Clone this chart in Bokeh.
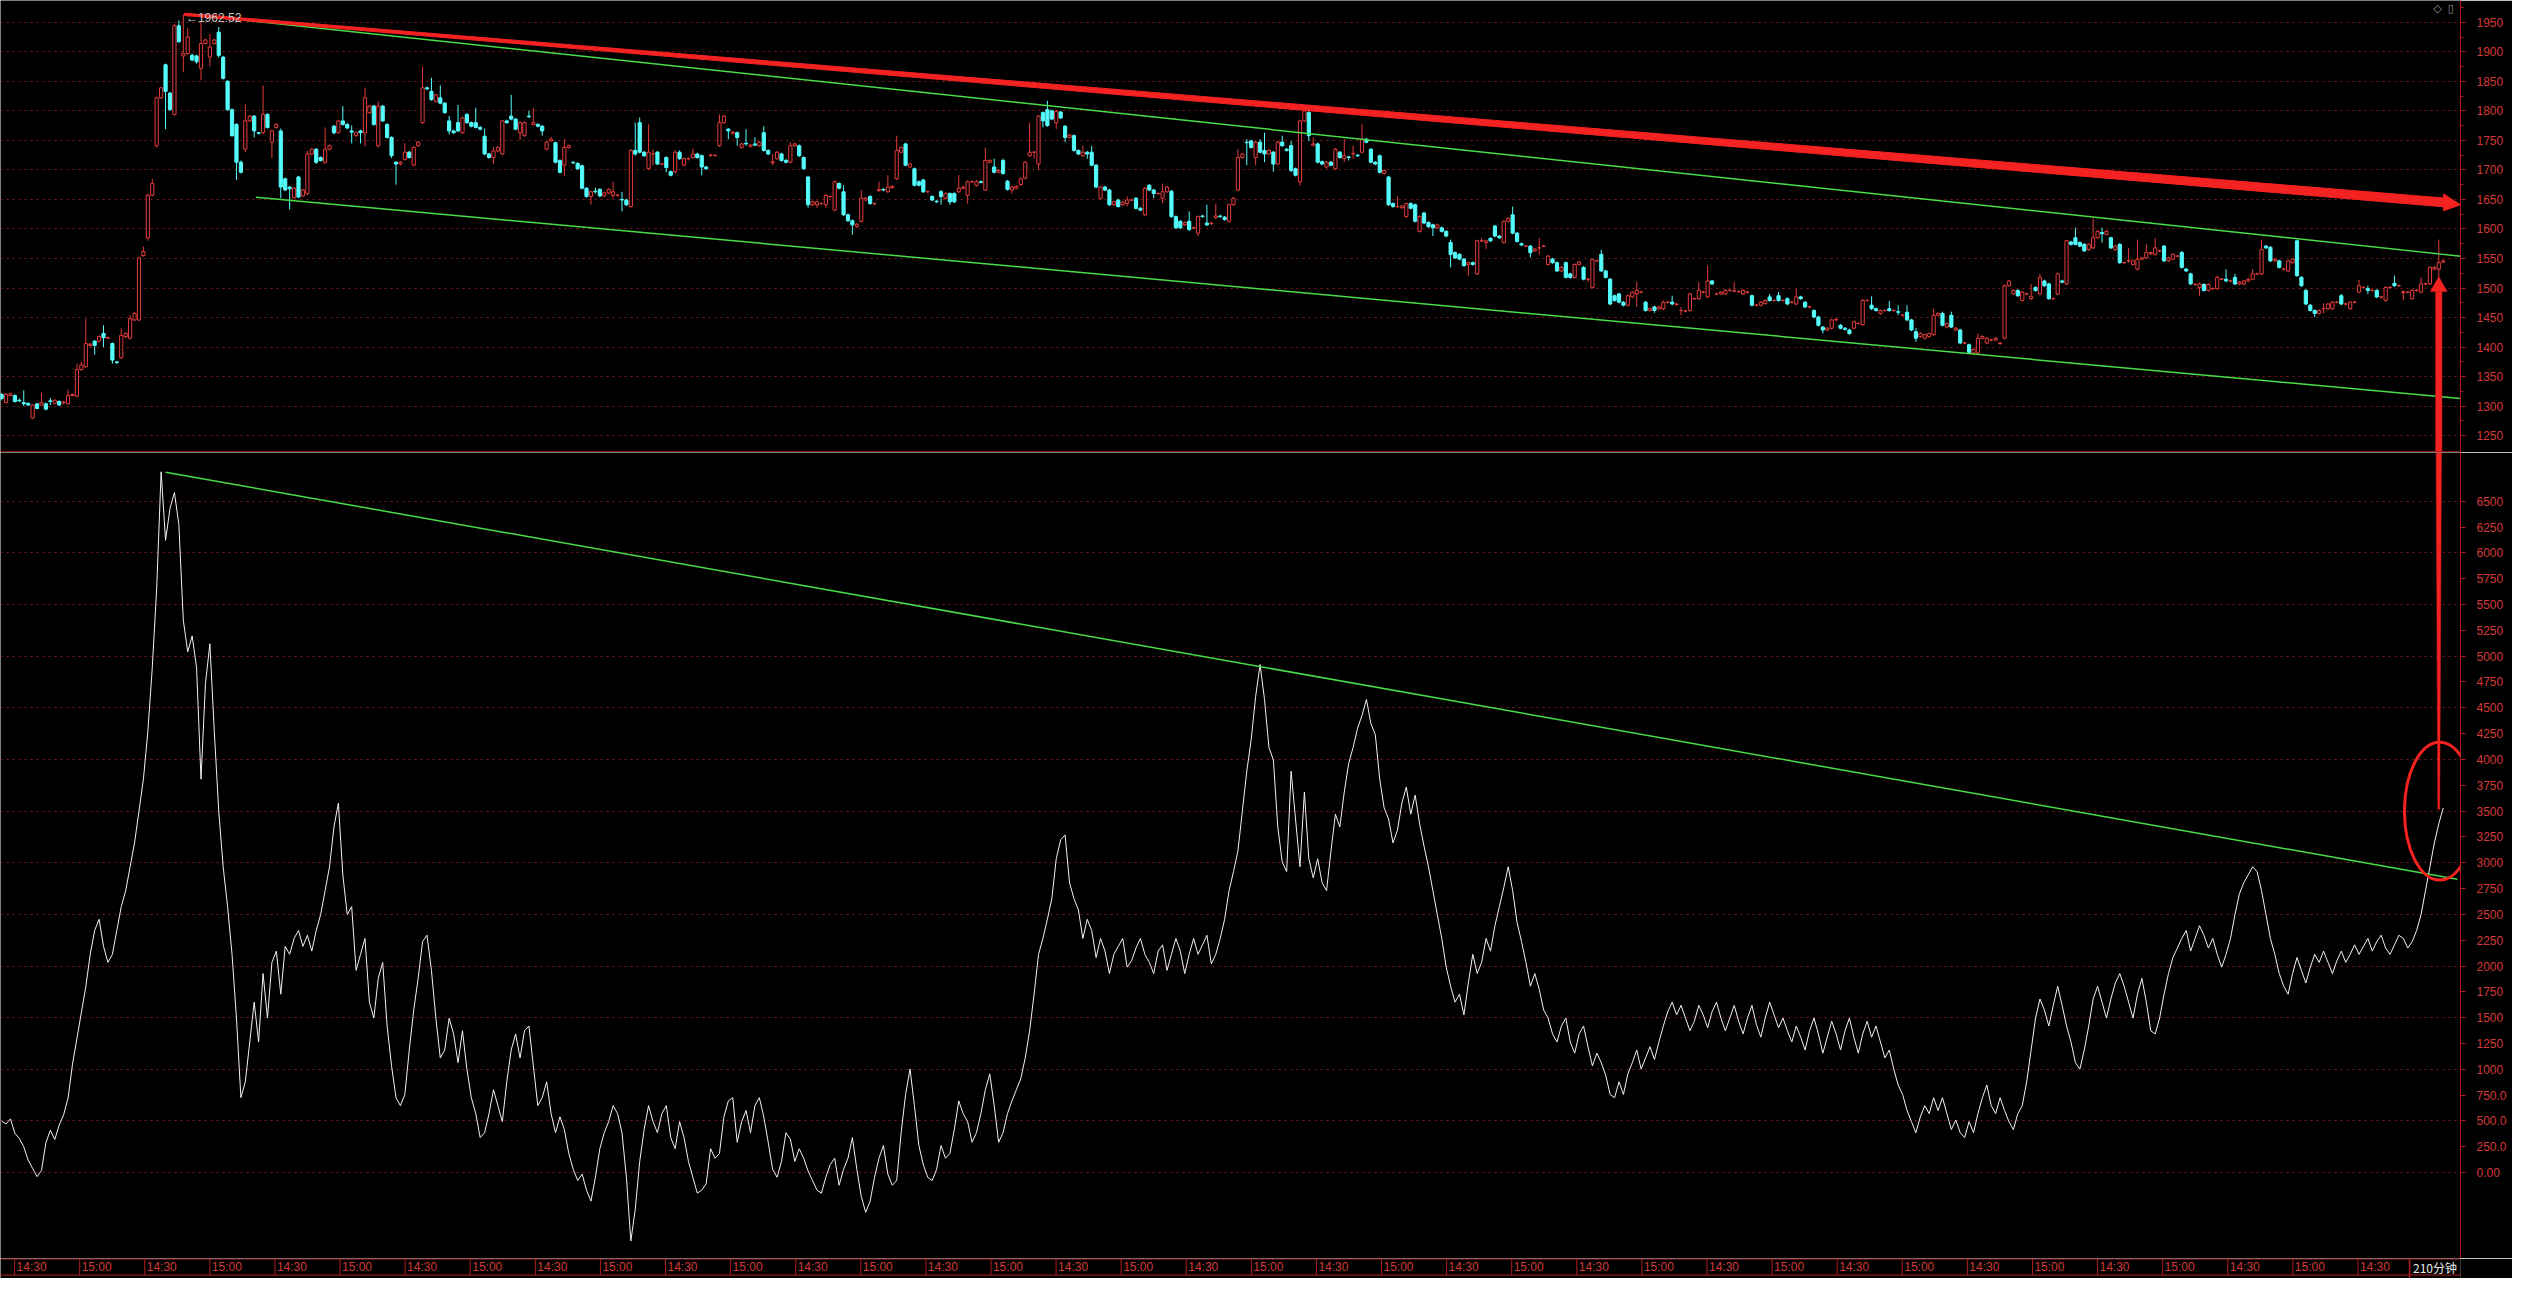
import re
import numpy as np
from bokeh.plotting import figure
from bokeh.layouts import column
from bokeh.models import Range1d, FixedTicker, ColumnDataSource, Span
from bokeh.embed import file_html
from bokeh.resources import INLINE
from bokeh.core.properties import value

# ---------------- data: 210-minute candles ----------------
open_prices = [
1320,1306,1318,1318,1310,1306,1305,1280,1304,1302,1304,1309,1305,1308,1306,1304,1318,1317,1362,1367,
1403,1410,1410,1423,1415,1406,1375,1382,1418,1415,1446,1446,1555,1585,1657,1741,1822,1878,1830,1794,
1944,1893,1897,1894,1893,1872,1914,1891,1914,1933,1891,1850,1802,1777,1713,1735,1783,1791,1763,1763,
1794,1747,1772,1766,1685,1671,1653,1688,1656,1660,1727,1735,1721,1713,1735,1774,1763,1783,1777,1766,
1758,1766,1763,1797,1808,1741,1808,1777,1755,1713,1710,1718,1730,1708,1741,1780,1839,1833,1816,1822,
1813,1783,1766,1780,1763,1794,1780,1780,1772,1757,1727,1721,1732,1727,1783,1791,1786,1763,1758,1791,
1777,1777,1774,1735,1749,1746,1716,1708,1738,1713,1711,1707,1669,1655,1664,1667,1656,1661,
1657,1657,1650,1649,1638,1733,1780,1730,1702,1727,1730,1710,1721,1697,1697,1730,1708,1719,1721,1727,
1724,1705,1725,1724,1741,1780,1769,1762,1763,1738,1745,1740,1744,1741,1763,1733,1712,1719,1727,1716,
1713,1741,1741,1721,1688,1641,1641,1643,1641,1655,1632,1677,1663,1624,1614,1604,1613,1649,1655,1643,
1665,1667,1663,1670,1685,1730,1744,1705,1702,1680,1683,1663,1655,1647,1663,1652,1660,1660,1663,1669,
1657,1680,1674,1680,1666,1713,1705,1696,1716,1681,1666,1669,1675,1686,1724,1730,1710,1797,1802,1800,
1780,1798,1774,1755,1758,1733,1724,1730,1730,1708,1652,1671,1666,1641,1649,1641,1643,1649,1652,1635,
1624,1674,1666,1660,1652,1663,1664,1621,1613,1607,1613,1602,1593,1622,1610,1609,1619,1622,1620,
1613,1641,1666,1721,1747,1749,1721,1747,1733,1727,1730,1710,1747,1735,1741,1702,1680,1783,1797,1742,
1744,1714,1705,1713,1702,1730,1719,1722,1727,1725,1730,1752,1735,1713,1724,1694,1688,1643,1638,1636,
1621,1643,1641,1596,1627,1611,1607,1602,1602,1596,1577,1560,1557,1549,1540,1543,1524,1580,1577,1584,
1605,1588,1577,1613,1624,1593,1575,1571,1571,1563,1568,1571,1540,1549,1543,1529,1543,1524,1518,1540,
1535,1515,1501,1546,1557,1529,1515,1487,1490,1476,1471,1485,1490,1493,1476,1462,1468,1465,1465,1476,
1476,1472,1462,1461,1462,1482,1482,1493,1485,1512,1490,1490,1490,1496,1495,1494,1490,1493,1487,1471,
1471,1474,1485,1479,1487,1479,1482,1476,1473,1485,1476,1468,1462,1451,1434,1429,1432,1446,1437,1432,
1429,1432,1440,1438,1479,1471,1465,1457,1462,1465,1462,1460,1454,1459,1446,1426,1418,1415,1418,1421,
1454,1457,1434,1454,1429,1429,1407,1404,1390,1390,1415,1407,1412,1412,1406,1415,1504,1490,1496,1479,
1490,1482,1501,1490,1512,1507,1482,1490,1512,1507,1578,1585,1577,1574,1565,1568,1585,1594,1591,1585,
1565,1574,1543,1546,1540,1532,1549,1551,1558,1557,1563,1571,1546,1549,1554,1560,1532,1524,1506,1501,
1506,1496,1499,1499,1515,1515,1512,1518,1507,1507,1512,1515,1524,1524,1571,1569,1546,1546,1532,1529,
1543,1580,1518,1496,1471,1462,1457,1465,1465,1465,1476,1487,1473,1465,1476,1493,1501,1499,1496,1496,
1485,1479,1501,1508,1504,1492,1493,1482,1496,1493,1507,1507,1532,1532,1544]

high_prices = [
1322,1322,1323,1320,1313,1327,1306,1303,1305,1323,1306,1314,1312,1310,1309,1328,1321,1372,1375,1448,
1407,1412,1420,1437,1418,1408,1376,1432,1425,1455,1460,1553,1570,1660,1685,1824,1840,1880,1832,1947,
1953,1962.52,1940,1897,1895,1950,1922,1930,1922,1942,1893,1852,1804,1779,1716,1811,1793,1793,1764,1843,
1796,1768,1779,1770,1687,1672,1671,1690,1668,1732,1737,1737,1723,1772,1743,1776,1785,1808,1779,1775,
1765,1768,1839,1810,1810,1816,1810,1779,1757,1715,1715,1745,1732,1740,1749,1875,1841,1856,1829,1843,
1815,1791,1768,1810,1790,1796,1782,1805,1774,1770,1729,1738,1740,1785,1785,1827,1788,1782,1782,1800,
1805,1779,1776,1749,1756,1748,1718,1752,1743,1714,1713,1709,1671,1665,1670,1669,1663,1669,
1680,1659,1663,1651,1735,1780,1789,1732,1777,1735,1732,1712,1723,1699,1733,1733,1721,1721,1736,1729,
1726,1707,1727,1726,1794,1793,1771,1766,1765,1746,1769,1744,1755,1749,1774,1735,1727,1732,1729,1719,
1747,1746,1743,1723,1690,1648,1648,1645,1659,1657,1682,1679,1674,1626,1616,1610,1666,1654,1657,1645,
1680,1669,1691,1674,1758,1740,1746,1712,1704,1682,1685,1665,1657,1649,1666,1662,1662,1662,1691,1673,
1682,1682,1683,1682,1738,1718,1719,1701,1719,1683,1673,1674,1687,1715,1780,1732,1793,1799,1817,1802,
1801,1800,1776,1761,1760,1735,1741,1732,1741,1710,1673,1673,1668,1648,1651,1647,1655,1651,1654,1637,
1671,1676,1668,1662,1677,1673,1666,1623,1615,1613,1630,1604,1623,1624,1641,1612,1643,1624,1622,
1643,1654,1735,1729,1752,1751,1749,1752,1763,1735,1732,1749,1758,1737,1749,1704,1785,1802,1802,1755,
1746,1716,1715,1715,1737,1732,1752,1724,1741,1727,1777,1754,1737,1715,1726,1701,1690,1645,1655,1641,
1645,1645,1643,1623,1629,1613,1609,1609,1604,1598,1582,1562,1559,1551,1545,1545,1582,1585,1582,1586,
1607,1590,1615,1620,1638,1595,1577,1573,1573,1568,1585,1573,1556,1551,1545,1537,1545,1526,1542,1546,
1537,1517,1550,1548,1565,1531,1517,1489,1492,1478,1489,1495,1510,1495,1478,1467,1470,1470,1479,1478,
1487,1475,1468,1463,1492,1484,1510,1495,1538,1514,1492,1495,1498,1498,1510,1496,1498,1495,1489,1473,
1478,1481,1490,1481,1493,1481,1484,1478,1499,1487,1478,1470,1464,1453,1436,1434,1448,1449,1439,1434,
1431,1445,1442,1481,1481,1486,1467,1464,1464,1478,1464,1471,1456,1471,1448,1432,1425,1423,1425,1465,
1459,1460,1442,1460,1434,1431,1409,1406,1398,1423,1420,1417,1414,1417,1409,1506,1514,1498,1498,1495,
1492,1507,1503,1524,1514,1509,1484,1526,1514,1582,1580,1602,1579,1576,1576,1618,1598,1602,1598,1587,
1573,1576,1545,1568,1548,1582,1553,1574,1562,1585,1565,1573,1553,1559,1556,1563,1534,1526,1508,1509,
1508,1508,1501,1521,1517,1532,1514,1524,1512,1514,1517,1532,1526,1582,1573,1571,1551,1548,1534,1548,
1551,1582,1520,1498,1473,1464,1464,1474,1475,1478,1478,1490,1475,1478,1478,1514,1503,1504,1498,1498,
1487,1503,1503,1521,1506,1496,1495,1498,1498,1518,1509,1536,1537,1582,1548]

low_prices = [
1310,1305,1317,1306,1307,1300,1300,1278,1295,1301,1293,1302,1303,1300,1303,1303,1317,1315,1360,1365,
1400,1387,1408,1400,1414,1372,1371,1380,1415,1413,1444,1444,1553,1580,1655,1738,1820,1769,1800,1792,
1915,1866,1895,1884,1880,1852,1912,1875,1912,1890,1853,1800,1756,1683,1694,1730,1781,1755,1760,1760,
1770,1720,1770,1652,1664,1633,1651,1652,1654,1657,1725,1710,1714,1710,1733,1760,1761,1775,1769,1745,
1756,1745,1740,1795,1775,1738,1781,1753,1720,1675,1708,1716,1719,1706,1739,1778,1835,1817,1814,1811,
1795,1760,1761,1764,1761,1778,1772,1770,1767,1725,1719,1710,1730,1725,1778,1784,1767,1750,1756,1788,
1775,1772,1758,1733,1747,1711,1694,1690,1736,1710,1700,1667,1653,1641,1660,1654,1654,1659,
1652,1655,1630,1639,1636,1724,1728,1722,1700,1708,1708,1708,1696,1689,1694,1717,1706,1716,1719,1719,
1691,1700,1722,1723,1739,1778,1752,1760,1741,1736,1741,1738,1740,1739,1731,1725,1708,1717,1714,1711,
1711,1739,1722,1700,1636,1639,1636,1641,1636,1653,1630,1667,1622,1612,1590,1602,1611,1647,1641,1640,
1663,1664,1661,1668,1683,1728,1706,1703,1672,1672,1661,1661,1647,1644,1641,1650,1641,1644,1661,1667,
1643,1678,1672,1677,1664,1711,1694,1694,1692,1665,1660,1667,1673,1684,1722,1719,1700,1772,1773,1784,
1769,1786,1747,1753,1731,1725,1722,1719,1706,1669,1650,1664,1639,1639,1636,1639,1638,1647,1633,1630,
1622,1664,1652,1658,1644,1661,1619,1600,1600,1605,1597,1600,1588,1619,1605,1607,1617,1619,1614,
1611,1639,1664,1719,1708,1736,1708,1728,1713,1725,1697,1708,1739,1731,1696,1689,1674,1781,1749,1740,
1711,1708,1702,1706,1700,1719,1713,1716,1719,1722,1728,1745,1711,1708,1694,1692,1639,1636,1635,1634,
1619,1633,1611,1594,1608,1602,1588,1600,1594,1586,1535,1549,1547,1536,1521,1538,1522,1578,1566,1578,
1586,1583,1575,1611,1591,1577,1571,1569,1552,1561,1557,1569,1538,1541,1527,1527,1516,1516,1516,1538,
1513,1510,1499,1544,1527,1516,1471,1477,1474,1469,1469,1483,1468,1491,1460,1460,1458,1463,1463,1474,
1471,1470,1454,1459,1460,1480,1480,1491,1483,1505,1488,1488,1488,1494,1493,1492,1488,1491,1469,1469,
1469,1472,1477,1477,1477,1477,1471,1474,1471,1480,1466,1466,1449,1435,1423,1427,1430,1444,1430,1428,
1421,1430,1438,1436,1477,1463,1460,1455,1460,1460,1460,1454,1452,1444,1427,1409,1416,1413,1416,1419,
1452,1435,1432,1432,1427,1405,1405,1389,1388,1388,1413,1405,1410,1410,1404,1413,1502,1488,1485,1477,
1488,1480,1494,1488,1502,1480,1480,1488,1508,1505,1572,1572,1569,1561,1563,1566,1583,1577,1589,1566,
1563,1541,1541,1543,1538,1530,1547,1549,1556,1555,1561,1544,1544,1547,1552,1533,1527,1505,1504,1487,
1494,1494,1497,1497,1513,1510,1510,1505,1505,1505,1510,1513,1522,1522,1566,1544,1544,1533,1530,1527,
1541,1519,1502,1471,1460,1451,1455,1457,1463,1463,1474,1471,1471,1463,1474,1491,1499,1490,1494,1483,
1482,1477,1499,1502,1502,1479,1491,1480,1494,1491,1505,1505,1530,1507,1542]

close_prices = [
1313,1320,1321,1308,1309,1304,1302,1302,1296,1306,1295,1308,1310,1302,1307,1318,1320,1362,1370,1406,
1405,1403,1418,1416,1416,1378,1374,1420,1423,1448,1457,1551,1562,1657,1677,1822,1839,1833,1802,1944,
1917,1897,1925,1886,1883,1914,1920,1908,1920,1894,1855,1802,1758,1713,1696,1783,1791,1766,1762,1794,
1772,1766,1777,1671,1666,1668,1669,1654,1666,1727,1735,1713,1716,1735,1741,1763,1783,1777,1771,1764,
1763,1763,1822,1808,1777,1808,1783,1755,1724,1710,1713,1730,1721,1738,1747,1839,1837,1819,1827,1813,
1797,1766,1763,1766,1788,1780,1774,1772,1769,1727,1721,1732,1738,1783,1780,1786,1769,1780,1780,1790,
1780,1774,1766,1747,1752,1713,1696,1738,1741,1712,1702,1669,1655,1663,1663,1656,1661,1667,
1663,1657,1649,1641,1733,1727,1730,1724,1730,1727,1710,1710,1704,1691,1730,1719,1719,1719,1727,1721,
1705,1702,1725,1725,1780,1791,1766,1764,1755,1744,1744,1742,1742,1747,1733,1727,1714,1730,1716,1713,
1741,1744,1724,1702,1641,1646,1646,1643,1657,1655,1680,1669,1624,1614,1607,1608,1652,1652,1643,1643,
1667,1666,1671,1672,1733,1738,1708,1710,1674,1674,1663,1663,1649,1646,1655,1660,1646,1646,1669,1671,
1680,1680,1680,1679,1716,1716,1696,1699,1694,1667,1671,1672,1685,1713,1730,1730,1791,1783,1775,1786,
1799,1788,1755,1759,1733,1727,1730,1727,1708,1671,1671,1666,1641,1646,1638,1645,1649,1649,1635,1632,
1669,1666,1660,1660,1663,1671,1621,1602,1602,1611,1599,1602,1621,1621,1607,1610,1622,1621,1616,
1641,1652,1721,1727,1746,1738,1747,1730,1727,1733,1710,1747,1741,1733,1699,1691,1783,1800,1758,1744,
1713,1710,1713,1708,1735,1721,1724,1721,1728,1724,1752,1747,1713,1710,1696,1699,1641,1638,1638,1639,
1643,1635,1613,1621,1610,1604,1602,1607,1596,1588,1557,1551,1549,1538,1543,1540,1580,1580,1580,1580,
1588,1585,1613,1618,1593,1579,1573,1571,1560,1566,1568,1571,1554,1543,1529,1535,1518,1518,1540,1544,
1515,1515,1548,1546,1529,1518,1473,1479,1476,1471,1487,1493,1496,1493,1462,1465,1462,1468,1476,1476,
1473,1473,1462,1461,1490,1482,1496,1493,1512,1507,1490,1493,1496,1496,1495,1494,1496,1493,1471,1471,
1476,1479,1479,1479,1479,1479,1473,1476,1485,1482,1468,1468,1451,1437,1429,1432,1446,1447,1432,1430,
1423,1443,1440,1479,1479,1465,1462,1462,1462,1462,1462,1459,1454,1446,1429,1415,1423,1421,1423,1454,
1457,1437,1440,1434,1432,1407,1407,1391,1396,1415,1418,1415,1412,1415,1407,1504,1512,1496,1487,1493,
1490,1486,1496,1518,1504,1482,1482,1524,1510,1580,1574,1574,1571,1563,1574,1585,1596,1592,1596,1568,
1571,1543,1543,1546,1546,1549,1551,1560,1560,1568,1563,1546,1551,1557,1554,1535,1529,1507,1506,1507,
1496,1506,1499,1518,1515,1512,1512,1507,1510,1512,1515,1524,1524,1565,1568,1546,1549,1535,1532,1546,
1549,1521,1504,1473,1462,1457,1462,1465,1473,1476,1476,1473,1473,1476,1476,1504,1501,1496,1496,1485,
1485,1501,1501,1504,1504,1494,1493,1496,1496,1507,1507,1535,1535,1543,1546]

# indicator value for every bar
indicator = [
500,470,520,380,330,250,120,40,-40,20,290,410,320,460,560,720,1050,1300,1550,1800,
2113,2344,2452,2190,2035,2113,2344,2575,2729,2961,3192,3500,3809,4271,4888,5659,6785,6122,6430,6584,
6276,5350,5042,5196,4888,3809,4734,5120,4271,3500,2961,2575,2113,1496,725,879,1264,1650,1264,1927,
1496,2035,2144,1727,2190,2113,2267,2344,2190,2298,2144,2344,2498,2729,2961,3346,3577,2884,2498,2575,
1958,2113,2267,1650,1496,1881,2035,1419,1033,725,648,756,1187,1573,1881,2236,2298,1958,1496,1110,
1187,1496,1342,1064,1373,1002,725,571,339,386,571,802,648,493,879,1187,1342,1110,1373,1419,
1033,648,725,879,571,386,540,416,185,31,-77,-15,-170,-277,-46,231,386,493,648,571,
386,-46,-663,-354,108,416,648,493,386,571,648,339,231,493,339,108,-46,-200,-170,-108,
231,139,185,540,694,725,293,493,601,386,648,725,540,293,31,-46,108,386,324,108,
231,139,15,-77,-170,-200,-46,77,139,-123,31,139,339,31,-231,-385,-277,-46,139,262,
-15,-123,-77,386,756,1002,648,262,77,-46,-77,31,262,139,185,416,694,571,493,293,
386,571,802,956,648,293,386,571,694,802,910,1110,1373,1727,2113,2267,2452,2652,3038,3223,
3269,2806,2652,2544,2267,2452,2344,2082,2267,2144,1927,2113,2190,2267,1989,2051,2174,2267,2113,2035,
1927,2144,2205,1958,2113,2267,2144,1927,2113,2267,2113,2205,2298,2020,2113,2267,2452,2729,2914,3115,
3500,3886,4194,4611,4919,4580,4117,3994,3346,3007,2914,3886,3423,2961,3685,3038,2853,3038,2806,2729,
3115,3470,3346,3685,3963,4117,4302,4425,4580,4348,4241,3809,3531,3423,3192,3315,3577,3732,3470,3655,
3377,3161,2961,2729,2498,2267,1989,1804,1650,1727,1527,1835,2113,1927,2035,2267,2144,2390,2575,2760,
2961,2729,2421,2236,2035,1804,1927,1773,1573,1496,1342,1264,1419,1496,1264,1156,1342,1419,1218,1033,
1156,1064,941,756,725,879,756,956,1064,1187,1002,1110,1218,1095,1264,1419,1557,1650,1527,1619,
1496,1373,1465,1619,1527,1403,1557,1650,1496,1373,1496,1619,1465,1342,1496,1619,1434,1311,1496,1650,
1527,1403,1496,1373,1264,1419,1311,1187,1373,1496,1342,1156,1311,1465,1342,1187,1373,1496,1311,1156,
1342,1465,1311,1419,1264,1110,1187,1002,848,756,601,493,386,540,648,571,725,601,725,571,
416,509,386,339,493,386,571,725,848,648,571,725,601,493,416,571,648,879,1187,1496,
1681,1573,1419,1619,1804,1619,1419,1264,1064,1002,1187,1419,1681,1804,1650,1496,1681,1835,1927,1804,
1650,1496,1727,1881,1650,1373,1342,1496,1727,1927,2082,2174,2267,2344,2144,2267,2390,2298,2174,2267,
2113,1989,2113,2267,2498,2698,2806,2884,2961,2914,2729,2498,2267,2113,1927,1804,1727,1927,2082,1958,
1835,1989,2113,2035,2144,2035,1927,2051,2144,2035,2113,2205,2113,2190,2267,2144,2236,2298,2174,2113,
2205,2298,2267,2174,2236,2344,2498,2729,2961,3192,3377,3531]

price_ticks = [1250, 1300, 1350, 1400, 1450, 1500, 1550, 1600, 1650, 1700, 1750, 1800, 1850, 1900, 1950]
ind_ticks = [0, 250, 500, 750, 1000, 1250, 1500, 1750, 2000, 2250, 2500, 2750, 3000, 3250, 3500,
             3750, 4000, 4250, 4500, 4750, 5000, 5250, 5500, 5750, 6000, 6250, 6500]
ind_grid = [0, 500, 1000, 1500, 2000, 2500, 3000, 3500, 4000, 4500, 5000, 5500, 6000, 6500]
ind_label_text = {0: "0.00", 250: "250.0", 500: "500.0", 750: "750.0"}

time_tick_bars = [3, 18, 33, 48, 63, 78, 93, 108, 123, 138, 153, 168, 183, 198, 213, 228, 243, 258, 273,
                  288, 303, 318, 333, 348, 363, 378, 393, 408, 423, 438, 453, 468, 483, 498, 513, 528, 543]
time_tick_text = ["14:30", "15:00"] * 18 + ["14:30"]
period_text = "210分钟"
corner_icons = ["\u25c7", "\u25af"]

# drawn trend lines (bar index, value)
red_trend = [(41.2, 1963.4), (551.1, 1645.0)]
red_head = [(551.1, 1659.3), (554.9, 1641.0), (551.1, 1630.9)]
green_upper = [(42.4, 1963.4), (554.9, 1554.0)]
green_lower = [(57.4, 1653.8), (554.9, 1313.0)]
arrow_bar = 550.0
arrow_tip_price = 1519.0
arrow_base_price = 1494.0
arrow_foot_value = 3519.0
ind_trend = [(37.0, 6781.0), (554.2, 2840.0)]
ring = dict(x=550.2, y=3500.0, w=15.9, h=1339.0)

# ---------------- layout constants ----------------
W = 2512
RIGHT = 52
H_TOP, H_BOT, H_STRIP = 452, 806, 20
X0, X1 = -0.25, 554.9
PR = (1221.6, 1986.8)
IR = (-832.0, 6972.0)

BG = "#000000"
AX = "#b01c1c"
LBL = "#d43a3a"
GRIDC = "#7c1c1c"
UP = "#e23c3c"
DN = "#54fcfc"
GREEN = "#48dc48"
MARK = "#f52222"
FONT = "Liberation Sans"


def make_fig(h, yr):
    p = figure(width=W, height=h, x_range=Range1d(X0, X1), y_range=Range1d(*yr),
               output_backend="svg", toolbar_location=None,
               x_axis_location=None, y_axis_location="right",
               background_fill_color=BG, border_fill_color=BG, outline_line_color=None,
               min_border_left=0, min_border_right=RIGHT, min_border_top=0, min_border_bottom=0)
    p.xgrid.visible = False
    ax = p.yaxis[0]
    ax.axis_line_color = AX
    ax.major_tick_line_color = AX
    ax.minor_tick_line_color = AX
    ax.major_tick_in = 0
    ax.major_tick_out = 5
    ax.minor_tick_in = 0
    ax.minor_tick_out = 3
    ax.major_label_text_color = LBL
    ax.major_label_text_font = FONT
    ax.major_label_text_font_size = "12px"
    ax.major_label_standoff = 11
    p.ygrid.grid_line_color = GRIDC
    p.ygrid.grid_line_dash = "2 4"
    p.ygrid.grid_line_width = 1
    return p


n = len(close_prices)
xs = np.arange(n)
o = np.array(open_prices, dtype=float)
h = np.array(high_prices, dtype=float)
l = np.array(low_prices, dtype=float)
c = np.array(close_prices, dtype=float)
up = c >= o

# ---------------- price panel ----------------
top = make_fig(H_TOP, PR)
minor_p = [t + 25 for t in price_ticks]
top.yaxis[0].ticker = FixedTicker(ticks=price_ticks, minor_ticks=minor_p)
top.ygrid.ticker = FixedTicker(ticks=price_ticks)

src = ColumnDataSource(dict(
    x=xs, hi=h, lo=l,
    top=np.maximum(o, c), bot=np.minimum(o, c),
    col=np.where(up, UP, DN), fill=np.where(up, BG, DN)))
top.segment(x0="x", y0="lo", x1="x", y1="hi", line_color="col", line_width=1, source=src)
top.vbar(x="x", top="top", bottom="bot", width=0.72, fill_color="fill",
         line_color="col", line_width=1, source=src)

# green channel
top.line([green_upper[0][0], green_upper[1][0]], [green_upper[0][1], green_upper[1][1]],
         line_color=GREEN, line_width=1.5)
top.line([green_lower[0][0], green_lower[1][0]], [green_lower[0][1], green_lower[1][1]],
         line_color=GREEN, line_width=1.5)

# red tapered trend arrow
(ax0, ay0), (ax1, ay1) = red_trend
top.patch([ax0, ax1, ax1, ax0], [ay0 + 2.0, ay1 + 7.5, ay1 - 7.5, ay0 - 2.0],
          fill_color=MARK, line_color=MARK, line_width=1)
top.patch([p_[0] for p_ in red_head], [p_[1] for p_ in red_head],
          fill_color=MARK, line_color=MARK, line_width=1)

# vertical arrow (upper part)
top.patch([arrow_bar - 0.7, arrow_bar + 0.7, arrow_bar + 0.7, arrow_bar - 0.7],
          [PR[0], PR[0], arrow_base_price, arrow_base_price],
          fill_color=MARK, line_color=MARK, line_width=0.5)
top.patch([arrow_bar - 1.9, arrow_bar, arrow_bar + 1.9],
          [arrow_base_price, arrow_tip_price, arrow_base_price],
          fill_color=MARK, line_color=MARK, line_width=0.5)

# max marker
imax = int(np.argmax(h))
top.text(x=[imax + 0.6], y=[h[imax] - 5], text=["\u2190" + f"{h[imax]:.2f}"],
         text_color="#c8c8c8", text_font=value(FONT), text_font_size="12px",
         text_align="left", text_baseline="middle")

# small window icons in the top-right corner
top.text(x=[X1 - 5.2, X1 - 2.2], y=[PR[1] - 13, PR[1] - 13], text=corner_icons,
         text_color="#9a9a9a", text_font=value("DejaVu Sans"), text_font_size="11px",
         text_align="center", text_baseline="middle")

top.add_layout(Span(location=PR[0] + 1.0, dimension="width", line_color=AX, line_width=1.5))

# ---------------- indicator panel ----------------
bot = make_fig(H_BOT, IR)
bot.yaxis[0].ticker = FixedTicker(ticks=ind_ticks)
bot.yaxis[0].major_label_overrides = ind_label_text
bot.ygrid.ticker = FixedTicker(ticks=ind_grid)

bot.line(np.arange(len(indicator)), indicator, line_color="#f2f2f2", line_width=1)
bot.line([ind_trend[0][0], ind_trend[1][0]], [ind_trend[0][1], ind_trend[1][1]],
         line_color=GREEN, line_width=1.5)
bot.patch([arrow_bar - 0.6, arrow_bar + 0.6, arrow_bar + 0.2, arrow_bar - 0.2],
          [IR[1], IR[1], arrow_foot_value, arrow_foot_value],
          fill_color=MARK, line_color=MARK, line_width=0.5)
bot.ellipse(x=[ring["x"]], y=[ring["y"]], width=ring["w"], height=ring["h"],
            fill_color=None, line_color=MARK, line_width=3)

# ---------------- time strip ----------------
px_per_bar = (W - RIGHT) / (X1 - X0)
xe = X0 + W / px_per_bar
strip = figure(width=W, height=H_STRIP, x_range=Range1d(X0, xe),
               y_range=Range1d(0, H_STRIP), output_backend="svg", toolbar_location=None,
               x_axis_location=None, y_axis_location=None,
               background_fill_color=BG, border_fill_color=BG, outline_line_color=None,
               min_border_left=0, min_border_right=0, min_border_top=0, min_border_bottom=0)
strip.xgrid.visible = False
strip.ygrid.visible = False
strip.segment(x0=[X0, X0], y0=[19.5, 3.5], x1=[xe, xe], y1=[19.5, 3.5], line_color=AX, line_width=1)
strip.segment(x0=time_tick_bars, y0=[3.5] * len(time_tick_bars), x1=time_tick_bars,
              y1=[19.5] * len(time_tick_bars), line_color=AX, line_width=1)
strip.segment(x0=[X1], y0=[0], x1=[X1], y1=[20], line_color=AX, line_width=1.5)
strip.text(x=[b + 0.45 for b in time_tick_bars], y=[11.3] * len(time_tick_bars), text=time_tick_text,
           text_color=LBL, text_font=value(FONT), text_font_size="12px",
           text_align="left", text_baseline="middle")
strip.text(x=[X1 + 0.8], y=[11.3], text=[period_text], text_color="#e8e8e8",
           text_font=value("Noto Sans CJK SC"), text_font_size="12px",
           text_align="left", text_baseline="middle")

layout = column(top, bot, strip, spacing=0)
html = file_html(layout, INLINE, title="chart")
html = re.sub(r"<body([^>]*)>", r'<body\1 style="background-color:#000000;">', html, count=1)
open("out.html", "w").write(html)
